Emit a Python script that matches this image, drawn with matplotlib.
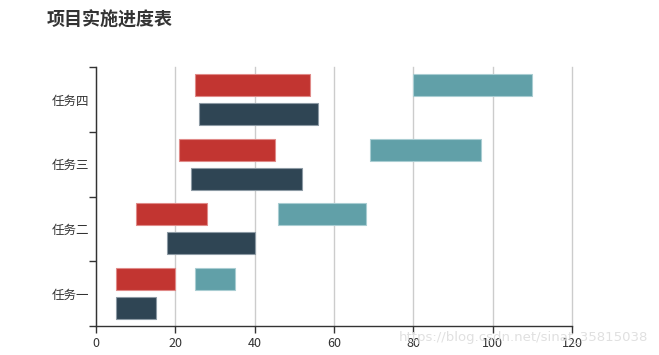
import numpy as np
import matplotlib
matplotlib.use("Agg")
import matplotlib.pyplot as plt

plt.rcParams['font.family'] = ['Noto Sans CJK SC', 'DejaVu Sans']

# task names, bottom to top
tasks = ['任务一', '任务二', '任务三', '任务四']

# upper row, first bar (red)
red_start = [5, 10, 21, 25]
red_end = [20, 28, 45, 54]
# upper row, second bar (teal)
teal_start = [25, 46, 69, 80]
teal_end = [35, 68, 97, 110]
# lower row (dark)
dark_start = [5, 18, 24, 26]
dark_end = [15, 40, 52, 56]

x_ticks = [0, 20, 40, 60, 80, 100, 120]

fig = plt.figure(figsize=(6.59, 3.55), dpi=100)
ax = fig.add_axes([96 / 659, 29 / 355, 476 / 659, 259 / 355])

y = np.arange(len(tasks))
h = 0.34
off = 0.225

def draw(start, end, ypos, color, edge):
    start = np.array(start)
    width = np.array(end) - start
    ax.barh(ypos, width, left=start, height=h, color=color,
            edgecolor=edge, linewidth=0.8, zorder=3)

draw(red_start, red_end, y + off, '#c23531', '#e08a88')
draw(teal_start, teal_end, y + off, '#61a0a8', '#a9cdd2')
draw(dark_start, dark_end, y - off, '#2f4554', '#8c9aa4')

ax.set_xlim(0, 120)
ax.set_ylim(-0.5, len(tasks) - 0.5)

ax.set_xticks(x_ticks)
ax.tick_params(axis='x', length=5, width=1, color='#333333',
               labelcolor='#333333', labelsize=9, pad=3)
ax.grid(axis='x', color='#cccccc', linewidth=1, zorder=0)
for gl in ax.get_xgridlines():
    gl.set_clip_on(False)

# category labels at band centres, ticks at band boundaries
ax.set_yticks(y)
ax.set_yticklabels(tasks)
ax.set_yticks(np.arange(len(tasks) + 1) - 0.5, minor=True)
ax.tick_params(axis='y', which='major', length=0, labelsize=9,
               labelcolor='#333333', pad=5)
ax.tick_params(axis='y', which='minor', length=5, width=1, color='#333333')

for s in ['top', 'right']:
    ax.spines[s].set_visible(False)
for s in ['left', 'bottom']:
    ax.spines[s].set_color('#333333')
    ax.spines[s].set_linewidth(1)
    ax.spines[s].set_zorder(4)

fig.text(47 / 659, 1 - 20 / 355, '项目实施进度表', fontsize=13,
         fontweight='bold', color='#333333', va='center', ha='left')

# watermark
fig.text(648 / 659, 1 - 337 / 355, 'https://blog.csdn.net/sinat_35815038',
         fontsize=9.5, color='#dddddd', ha='right', va='center',
         family='DejaVu Sans', alpha=0.9)

fig.savefig('out.png', dpi=100)
